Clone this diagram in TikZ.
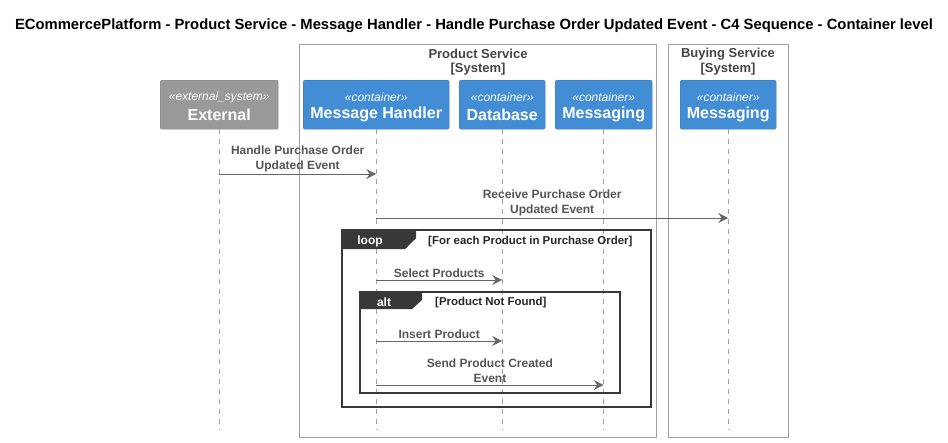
\documentclass[tikz,border=0pt]{standalone}
\usepackage{fontspec}
\setmainfont{Liberation Sans}
\usetikzlibrary{arrows.meta}
\definecolor{c4blue}{HTML}{438DD5}
\definecolor{extgray}{HTML}{999999}
\definecolor{boxline}{HTML}{A0A0A0}
\definecolor{txtgray}{HTML}{555555}
\definecolor{arrgray}{HTML}{666666}
\definecolor{framecol}{HTML}{383838}
\tikzset{
  part/.style={rounded corners=2pt, draw=#1!85!black, line width=0.4pt, fill=#1, inner sep=0pt, minimum height=49pt, anchor=north west},
  stlbl/.style={font=\fontsize{12}{14}\selectfont\itshape, text=white, inner sep=0pt, yshift=-1.2pt},
  nmlbl/.style={font=\fontsize{16}{19}\selectfont\bfseries, text=white, inner sep=0pt, yshift=-1.5pt},
  sysbox/.style={draw=boxline, line width=1pt},
  systitle/.style={font=\fontsize{13}{15}\selectfont\bfseries, text=txtgray!80!black, align=center, inner sep=0pt, yshift=-1.2pt},
  life/.style={draw=boxline, dash pattern=on 5pt off 5pt, line width=0.7pt},
  msg/.style={draw=arrgray, line width=1pt, -{Stealth[length=10pt,width=10pt,inset=3.5pt]}},
  msglabel/.style={font=\fontsize{12}{15}\selectfont\bfseries, text=txtgray, align=center, inner sep=0pt, anchor=south},
  frame/.style={draw=framecol, line width=1.5pt},
  tab/.style={fill=framecol},
  tablabel/.style={font=\fontsize{12}{14}\selectfont\bfseries, text=white, inner sep=0pt, yshift=-1.5pt},
  cond/.style={font=\fontsize{11.45}{13}\selectfont\bfseries, text=black!85, inner sep=0pt, anchor=west, yshift=-1.2pt},
}
\begin{document}
\begin{tikzpicture}[x=1pt,y=-1pt]
\useasboundingbox (0,0) rectangle (948,442);
% title
\node[font=\fontsize{14.8}{17}\selectfont\bfseries, inner sep=0pt] (title) at (474,26) {ECommercePlatform - Product Service - Message Handler - Handle Purchase Order Updated Event - C4 Sequence - Container level};
% system boxes
\draw[sysbox] (299,44) rectangle (656,437);
\node[systitle] (pst) at (478,53) {Product Service};
\node[systitle] (pss) at (478,68) {[System]};
\draw[sysbox] (668,44) rectangle (788,437);
\node[systitle] (bst) at (728,53) {Buying Service};
\node[systitle] (bss) at (728,68) {[System]};
% participants
\node[part=extgray, minimum width=118pt] (ext) at (160,80) {};
\node[part=c4blue, minimum width=146pt] (mh) at (303,80) {};
\node[part=c4blue, minimum width=86pt] (db) at (459,80) {};
\node[part=c4blue, minimum width=97pt] (msg) at (555,80) {};
\node[part=c4blue, minimum width=96pt] (bmsg) at (680,80) {};
\node[stlbl] (exts) at (ext.center |- 0,96) {«external\_system»};
\node[nmlbl] (extn) at (ext.center |- 0,113) {External};
\node[stlbl] (mhs) at (mh.center |- 0,96) {«container»};
\node[nmlbl] (mhn) at (mh.center |- 0,113) {Message Handler};
\node[stlbl] (dbs) at (db.center |- 0,96) {«container»};
\node[nmlbl] (dbn) at (db.center |- 0,113) {Database};
\node[stlbl] (msgs) at (msg.center |- 0,96) {«container»};
\node[nmlbl] (msgn) at (msg.center |- 0,113) {Messaging};
\node[stlbl] (bmsgs) at (bmsg.center |- 0,96) {«container»};
\node[nmlbl] (bmsgn) at (bmsg.center |- 0,113) {Messaging};
% lifeline ends
\coordinate (extE) at (ext.south |- 0,430);
\coordinate (mhE) at (mh.south |- 0,430);
\coordinate (dbE) at (db.south |- 0,430);
\coordinate (msgE) at (msg.south |- 0,430);
\coordinate (bmsgE) at (bmsg.south |- 0,430);
\draw[life] (ext.south) -- (extE);
\draw[life] (mh.south) -- (mhE);
\draw[life] (db.south) -- (dbE);
\draw[life] (msg.south) -- (msgE);
\draw[life] (bmsg.south) -- (bmsgE);
% loop frame
\draw[frame] (342,230) rectangle (651,407);
\fill[tab] (342,230) -- (416,230) -- (416,238) -- (405,249) -- (342,249) -- cycle;
\node[tablabel] (looplbl) at (370,240) {loop};
\node[cond] (loopcond) at (428,240) {[For each Product in Purchase Order]};
% alt frame
\draw[frame] (360,292) rectangle (620,393);
\fill[tab] (360,292) -- (422,292) -- (422,300) -- (412,309) -- (360,309) -- cycle;
\node[tablabel] (altlbl) at (384,301) {alt};
\node[cond] (altcond) at (435,301) {[Product Not Found]};
% messages
\draw[msg] (ext.south |- 0,174) -- node[msglabel, above=1.5pt] {Handle Purchase Order\\Updated Event} (mh.south |- 0,174);
\draw[msg] (mh.south |- 0,218) -- node[msglabel, above=1.5pt] {Receive Purchase Order\\Updated Event} (bmsg.south |- 0,218);
\draw[msg] (mh.south |- 0,280) -- node[msglabel, above=1.5pt] {Select Products} (db.south |- 0,280);
\draw[msg] (mh.south |- 0,341) -- node[msglabel, above=1.5pt] {Insert Product} (db.south |- 0,341);
\draw[msg] (mh.south |- 0,385) -- node[msglabel, above=1.5pt] {Send Product Created\\Event} (msg.south |- 0,385);
\end{tikzpicture}
\end{document}
